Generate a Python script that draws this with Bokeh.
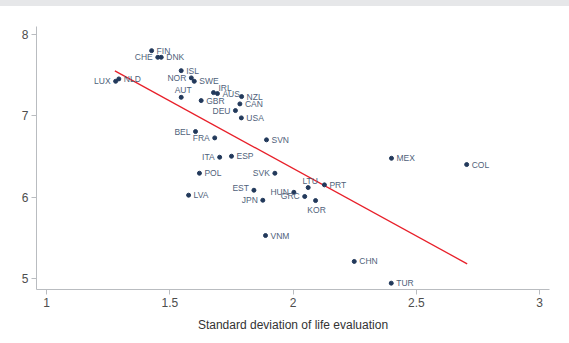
from bokeh.plotting import figure
from bokeh.models import ColumnDataSource, Range1d, FixedTicker, Div
from bokeh.layouts import column
from bokeh.embed import file_html
from bokeh.resources import INLINE
from bokeh.core.properties import value

countries = ["FIN", "CHE", "DNK", "ISL", "NOR", "SWE", "LUX", "NLD", "AUT", "IRL",
             "AUS", "NZL", "GBR", "CAN", "DEU", "USA", "BEL", "FRA", "SVN", "ITA",
             "ESP", "POL", "SVK", "EST", "LVA", "JPN", "HUN", "LTU", "GRC", "KOR",
             "PRT", "VNM", "MEX", "COL", "CHN", "TUR"]
sd_life = [1.426, 1.451, 1.465, 1.546, 1.587, 1.599, 1.280, 1.293, 1.546, 1.677,
           1.693, 1.791, 1.627, 1.784, 1.766, 1.790, 1.604, 1.682, 1.892, 1.702,
           1.750, 1.620, 1.926, 1.841, 1.576, 1.877, 2.003, 2.061, 2.047, 2.091,
           2.127, 1.888, 2.399, 2.704, 2.248, 2.398]
mean_life = [7.803, 7.721, 7.721, 7.557, 7.468, 7.426, 7.426, 7.455, 7.229, 7.287,
             7.275, 7.238, 7.189, 7.148, 7.066, 6.976, 6.808, 6.730, 6.706, 6.492,
             6.504, 6.295, 6.295, 6.086, 6.025, 5.963, 6.061, 6.119, 6.009, 5.959,
             6.152, 5.529, 6.479, 6.402, 5.210, 4.943]
# label placement: r=right, l=left, a=above, b=below, ar=above-right, al=left slightly up
label_side = ["r", "l", "r", "r", "l", "r", "l", "r", "a", "ar",
              "r", "r", "r", "r", "l", "r", "l", "l", "r", "l",
              "r", "r", "l", "al", "r", "l", "l", "a", "l", "b",
              "r", "r", "r", "r", "r", "r"]
fit_x = [1.277, 2.706]
fit_y = [7.554, 5.181]

x_ticks = [1, 1.5, 2, 2.5, 3]
y_ticks = [5, 6, 7, 8]

p = figure(width=569, height=337, output_backend="svg", toolbar_location=None,
           x_range=Range1d(0.959, 3.04), y_range=Range1d(4.865, 8.10),
           min_border_left=36, min_border_right=20, min_border_top=20,
           min_border_bottom=54)
p.outline_line_color = None
p.grid.visible = False
p.background_fill_color = "white"
p.border_fill_color = "white"

for ax in (p.xaxis[0], p.yaxis[0]):
    ax.axis_line_color = "#b9bcc0"
    ax.major_tick_line_color = "#b9bcc0"
    ax.major_tick_out = 5
    ax.major_tick_in = 0
    ax.minor_tick_line_color = None
    ax.major_label_text_color = "#4d4d4d"
    ax.major_label_text_font = "Liberation Sans"
    ax.major_label_text_font_size = "12px"
    ax.major_label_standoff = 3
p.xaxis.ticker = FixedTicker(ticks=x_ticks)
p.yaxis.ticker = FixedTicker(ticks=y_ticks)
p.xaxis.major_label_overrides = {1: "1", 1.5: "1.5", 2: "2", 2.5: "2.5", 3: "3"}
p.xaxis.axis_label = "Standard deviation of life evaluation"
p.xaxis.axis_label_text_font = "Liberation Sans"
p.xaxis.axis_label_text_font_style = "normal"
p.xaxis.axis_label_text_font_size = "12px"
p.xaxis.axis_label_text_color = "#333333"
p.xaxis.axis_label_standoff = 8

p.line(fit_x, fit_y, line_color="#e8202a", line_width=1.3)

src = ColumnDataSource(dict(x=sd_life, y=mean_life, name=countries))
p.scatter("x", "y", source=src, size=4, fill_color="#22395b", line_color="#22395b")

placements = {
    "r": dict(text_align="left", text_baseline="middle", x_offset=5, y_offset=0),
    "l": dict(text_align="right", text_baseline="middle", x_offset=-5, y_offset=0),
    "a": dict(text_align="center", text_baseline="middle", x_offset=2, y_offset=-7),
    "b": dict(text_align="center", text_baseline="middle", x_offset=1, y_offset=9),
    "ar": dict(text_align="left", text_baseline="middle", x_offset=5, y_offset=-5),
    "al": dict(text_align="right", text_baseline="middle", x_offset=-5, y_offset=-2),
}
for code, opts in placements.items():
    idx = [i for i, s in enumerate(label_side) if s == code]
    if not idx:
        continue
    s = ColumnDataSource(dict(x=[sd_life[i] for i in idx], y=[mean_life[i] for i in idx],
                              t=[countries[i] for i in idx]))
    p.text("x", "y", text="t", source=s, text_font=value("Liberation Sans"),
           text_font_size="8.5px", text_color="#4f5f7a", **opts)

band = Div(width=569, height=6, margin=0, styles={"background-color": "#e6e7e9"})
layout = column(band, p, spacing=0, margin=0)

open("out.html", "w").write(file_html(layout, INLINE))
